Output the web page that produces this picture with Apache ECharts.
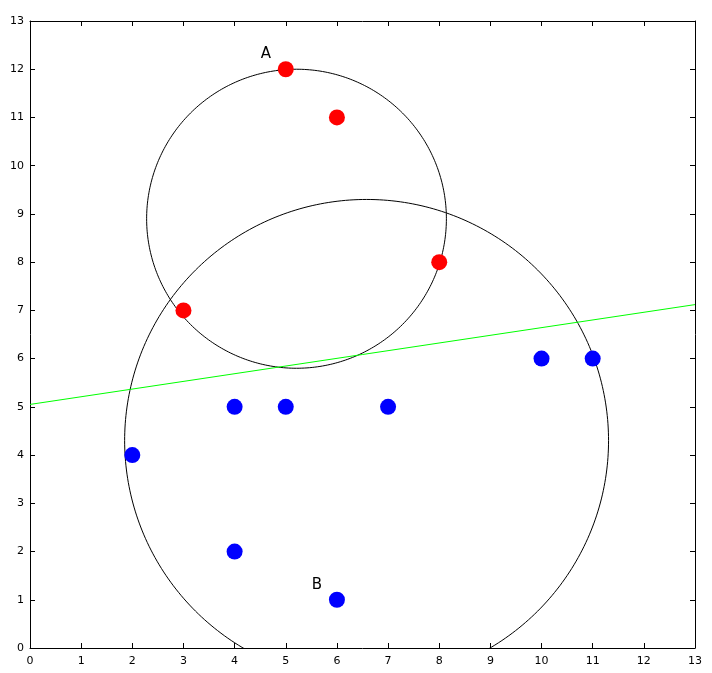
<!DOCTYPE html>
<html>
<head>
<meta charset="utf-8">
<script src="https://cdn.jsdelivr.net/npm/echarts@6/dist/echarts.min.js"></script>
<style>html,body{margin:0;padding:0;background:#fff}#c{width:712px;height:673px}</style>
</head>
<body>
<div id="c"></div>
<script>
// Data
var redPoints = [[5,12],[6,11],[8,8],[3,7]];
var bluePoints = [[2,4],[4,5],[5,5],[7,5],[10,6],[11,6],[4,2],[6,1]];
// circles: [centerX, centerY, radiusX, radiusY]
var circles = [[5.21, 8.9, 2.93, 3.1],[6.58, 4.3, 4.73, 5.0]];
var greenLine = [[0,5.05],[13,7.12]];
var pointLabels = [{name:'A', at:[5,12]},{name:'B', at:[6,1]}];
var axisMin = 0, axisMax = 13, tickStep = 1;

var chart = echarts.init(document.getElementById('c'), null, {renderer:'canvas'});
var font = 'DejaVu Sans';
function xAx(pos, showLabel){
  return {type:'value', position:pos, min:axisMin, max:axisMax, interval:tickStep,
    axisLine:{show:true, onZero:false, lineStyle:{color:'#000', width:1}},
    axisTick:{show:true, inside:true, length:5, lineStyle:{color:'#000'}},
    axisLabel:{show:showLabel, color:'#000', fontFamily:font, fontSize:11, margin:8},
    splitLine:{show:false}};
}
function yAx(pos, showLabel){
  return {type:'value', position:pos, min:axisMin, max:axisMax, interval:tickStep,
    axisLine:{show:true, onZero:false, lineStyle:{color:'#000', width:1}},
    axisTick:{show:true, inside:true, length:5, lineStyle:{color:'#000'}},
    axisLabel:{show:showLabel, color:'#000', fontFamily:font, fontSize:11, margin:6},
    splitLine:{show:false}};
}
var labelData = pointLabels.map(function(p){ return {value:p.at, name:p.name}; });

chart.setOption({
  animation:false,
  backgroundColor:'#fff',
  grid:{left:30, right:17, top:21, bottom:25, containLabel:false},
  xAxis:[xAx('bottom', true), xAx('top', false)],
  yAxis:[yAx('left', true), yAx('right', false)],
  series:[
    {type:'custom', clip:true, data:circles, encode:{x:0, y:1}, silent:true,
      renderItem:function(params, api){
        var cx=api.value(0), cy=api.value(1), rx=api.value(2), ry=api.value(3);
        var pts=[];
        for(var i=0;i<=360;i++){
          var a=i*Math.PI/180;
          pts.push(api.coord([cx+rx*Math.cos(a), cy+ry*Math.sin(a)]));
        }
        return {type:'polyline', shape:{points:pts}, style:{stroke:'#000', fill:null, lineWidth:1}};
      }, z:2},
    {type:'line', data:greenLine, symbol:'none', lineStyle:{color:'#00ff00', width:1}, z:3, silent:true},
    {type:'scatter', data:redPoints, symbol:'circle', symbolSize:16, itemStyle:{color:'#ff0000', opacity:1}, z:5},
    {type:'scatter', data:bluePoints, symbol:'circle', symbolSize:16, itemStyle:{color:'#0000ff', opacity:1}, z:5},
    {type:'scatter', data:labelData, symbolSize:0, z:6, itemStyle:{opacity:1},
      label:{show:true, formatter:'{b}', position:'inside', offset:[-20,-15], color:'#000', opacity:1, fontFamily:font, fontSize:15}}
  ]
});
</script>
</body>
</html>
